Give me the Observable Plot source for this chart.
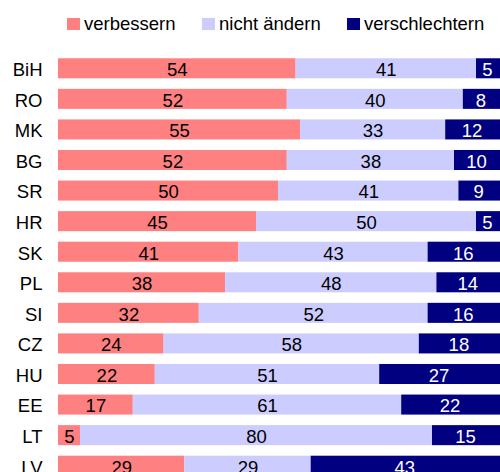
<!DOCTYPE html>
<html>
<head>
<meta charset="utf-8">
<script src="https://cdn.jsdelivr.net/npm/d3@7"></script>
<script src="https://cdn.jsdelivr.net/npm/@observablehq/plot@0.6"></script>
<style>
  html, body { margin: 0; padding: 0; background: #fff; overflow: hidden; }
  body { width: 500px; height: 472px; font-family: "Liberation Sans", Arial, sans-serif; }
  #legend { position: relative; height: 40px; font-size: 18.5px; line-height: 22px; color: #000; }
  #legend .sw { position: absolute; top: 18px; width: 13px; height: 12px; }
  #legend .lbl { position: absolute; top: 13px; white-space: nowrap; }
  #chart svg { display: block; }
</style>
</head>
<body>
<div id="legend"></div>
<div id="chart"></div>
<script>
const categories = ["BiH","RO","MK","BG","SR","HR","SK","PL","SI","CZ","HU","EE","LT","LV"];
const seriesNames = ["verbessern","nicht ändern","verschlechtern"];
const seriesColors = ["#ff8080","#ccccff","#000080"];
const verbessern     = [54,52,55,52,50,45,41,38,32,24,22,17,5,29];
const nichtAendern   = [41,40,33,38,41,50,43,48,52,58,51,61,80,29];
const verschlechtern = [5,8,12,10,9,5,16,14,16,18,27,22,15,43];

const seriesValues = [verbessern, nichtAendern, verschlechtern];
const rows = [];
categories.forEach((c, i) => {
  seriesNames.forEach((s, j) => rows.push({cat: c, series: s, value: seriesValues[j][i]}));
});

// legend (HTML, above the SVG)
const legendX = [67, 202, 347];
const legend = document.getElementById("legend");
seriesNames.forEach((s, j) => {
  const sw = document.createElement("span");
  sw.className = "sw";
  sw.style.left = legendX[j] + "px";
  sw.style.background = seriesColors[j];
  const t = document.createElement("span");
  t.className = "lbl";
  t.style.left = (legendX[j] + 17) + "px";
  t.textContent = s;
  legend.appendChild(sw); legend.appendChild(t);
});

const stackOpts = {x: "value", y: "cat", z: "series", offset: "normalize"};
const last = seriesNames[2];

const chart = Plot.plot({
  width: 500,
  height: 441,
  marginLeft: 58,
  marginRight: 2,
  marginTop: 13,
  marginBottom: 0,
  style: {fontFamily: '"Liberation Sans", Arial, sans-serif', fontSize: "18.5px", color: "#000", background: "#fff"},
  x: {domain: [0, 1], axis: null},
  y: {domain: categories, paddingInner: 0.345, paddingOuter: 0.1725, round: false, axis: null},
  color: {domain: seriesNames, range: seriesColors},
  marks: [
    Plot.axisY({tickSize: 0, tickPadding: 16, label: null, dy: 1.5, fontSize: 18.5}),
    Plot.barX(rows, Plot.filter(d => d.series !== last, Plot.stackX({...stackOpts, fill: "series"}))),
    Plot.barX(rows, Plot.filter(d => d.series === last, Plot.stackX({...stackOpts, fill: "series", insetRight: -3}))),
    Plot.text(rows, Plot.stackX({...stackOpts, text: "value", fontSize: 18.5, dy: 1.5,
      fill: d => d.series === last ? "#fff" : "#000"}))
  ]
});
document.getElementById("chart").appendChild(chart);
</script>
</body>
</html>
